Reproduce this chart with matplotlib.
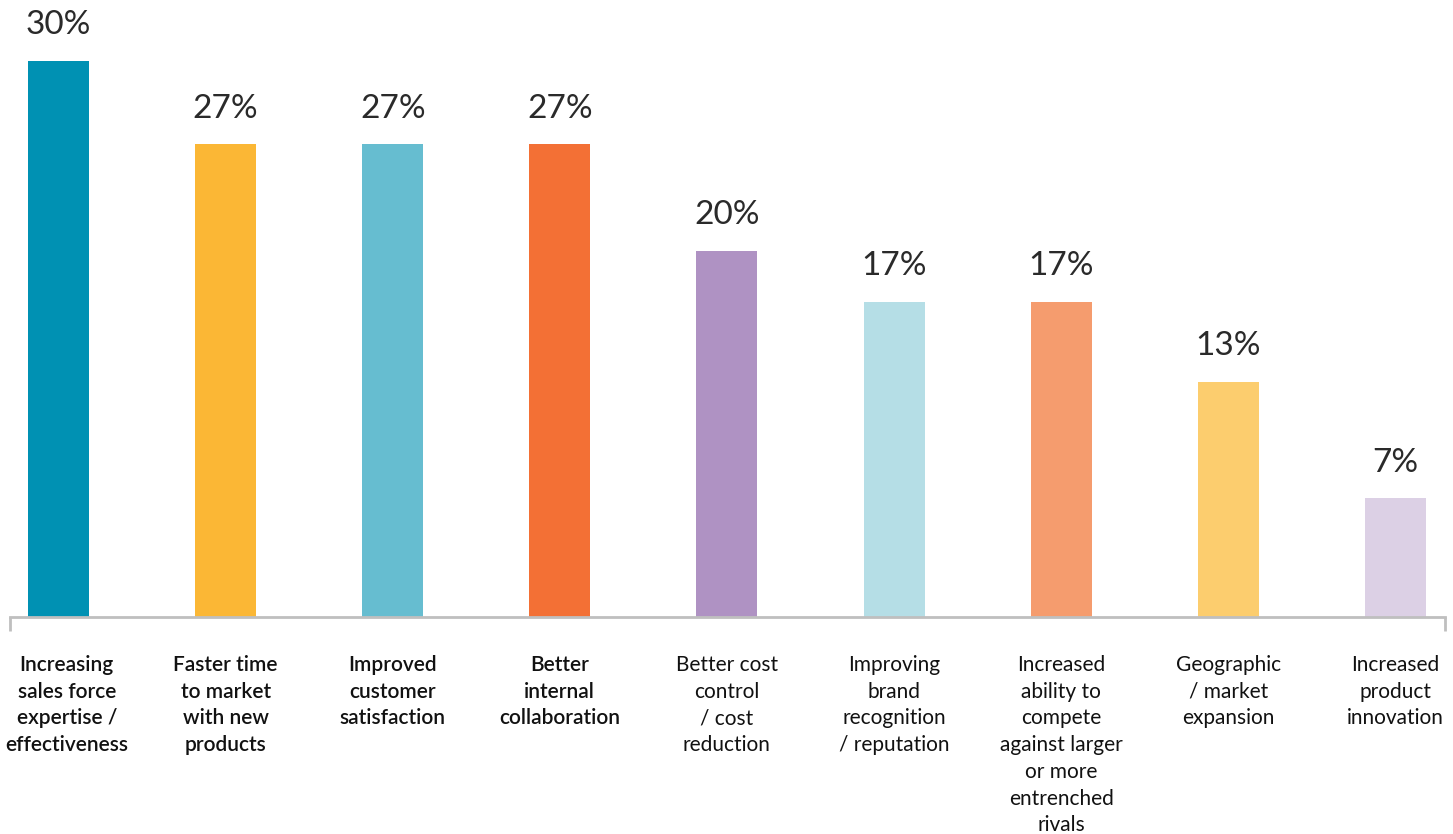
import matplotlib
matplotlib.use("Agg")
import matplotlib.pyplot as plt

categories = [
    "Increasing\nsales force\nexpertise /\neffectiveness",
    "Faster time\nto market\nwith new\nproducts",
    "Improved\ncustomer\nsatisfaction",
    "Better\ninternal\ncollaboration",
    "Better cost\ncontrol\n/ cost\nreduction",
    "Improving\nbrand\nrecognition\n/ reputation",
    "Increased\nability to\ncompete\nagainst larger\nor more\nentrenched\nrivals",
    "Geographic\n/ market\nexpansion",
    "Increased\nproduct\ninnovation",
]
bar_heights = [30, 25.5, 25.5, 25.5, 19.75, 17, 17, 12.7, 6.4]
value_labels = ["30%", "27%", "27%", "27%", "20%", "17%", "17%", "13%", "7%"]
bold_flags = [True, True, True, True, False, False, False, False, False]
colors = ["#0091B3", "#FBB735", "#66BDD0", "#F37035", "#AF92C3",
          "#B5DEE6", "#F59C6E", "#FCCD6E", "#DCD0E5"]

plt.rcParams['font.family'] = ['Lato', 'DejaVu Sans']

fig = plt.figure(figsize=(14.53, 8.34), dpi=100)
ax = fig.add_axes([10/1453, 217/834, 1435/1453, 556/834])
x = list(range(len(categories)))
bars = ax.bar(x, bar_heights, width=0.365, color=colors, zorder=2)
ax.set_xlim(-0.29, 8.297)
ax.set_ylim(0, 30)

for xi, h, lab in zip(x, bar_heights, value_labels):
    ax.annotate(lab, (xi, h), xytext=(0, 15), textcoords="offset points",
                ha="center", va="bottom", fontsize=24, fontweight="normal",
                color="#2a2a2a")

for s in ["top", "right", "left"]:
    ax.spines[s].set_visible(False)
ax.spines["bottom"].set_color("#BFBFBF")
ax.spines["bottom"].set_linewidth(2)
ax.set_yticks([])
ax.set_xticks([])
# end ticks of axis
for xe in ax.get_xlim():
    ax.plot([xe, xe], [0, -0.75], color="#BFBFBF", lw=2, clip_on=False,
            solid_capstyle="butt")

for i, (xi, cat, b) in enumerate(zip(x, categories, bold_flags)):
    dx = 6 if i == 0 else 0
    ax.annotate(cat, (xi, -2.05), xytext=(dx, 0), textcoords="offset points",
                ha="center", va="top", fontsize=15,
                fontweight="semibold" if b else "normal", color="#111111",
                linespacing=1.42, annotation_clip=False)

fig.savefig("out.png", dpi=100)
